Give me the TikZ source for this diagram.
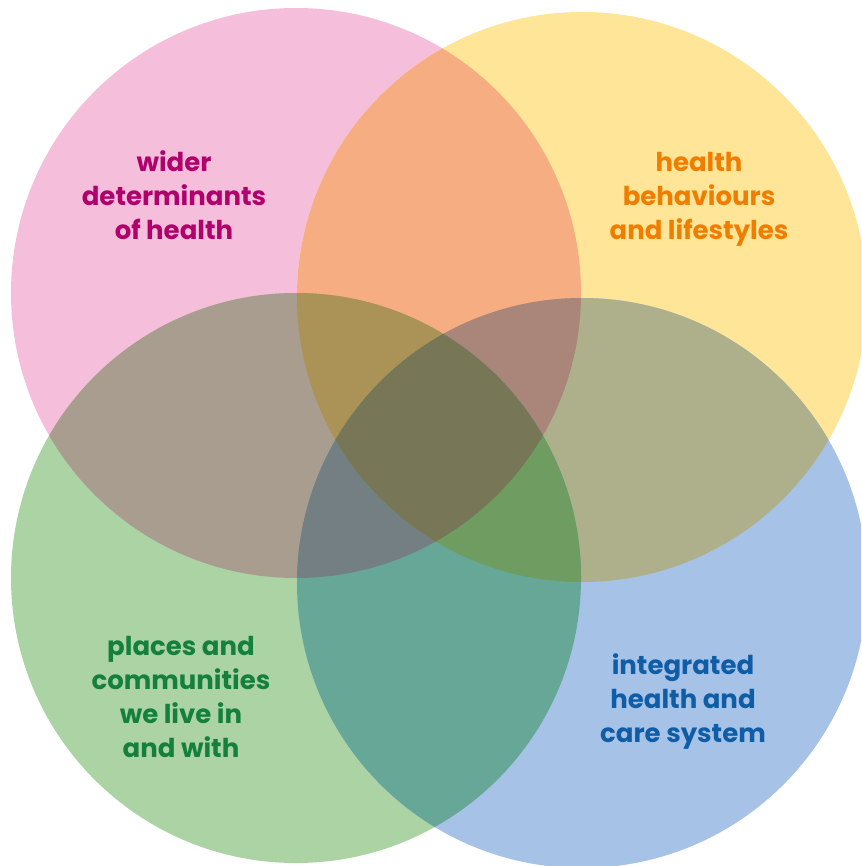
\documentclass[tikz,border=0pt]{standalone}
\usepackage{fontspec}
\setmainfont{Poppins}
\definecolor{cP}{HTML}{F5BEDB}
\definecolor{cY}{HTML}{FFE597}
\definecolor{cG}{HTML}{ACD3A4}
\definecolor{cB}{HTML}{A7C2E7}
\definecolor{cPY}{HTML}{F6AD82}
\definecolor{cPG}{HTML}{A89D8E}
\definecolor{cYB}{HTML}{ADB08A}
\definecolor{cGB}{HTML}{67A797}
\definecolor{cPYG}{HTML}{AB9358}
\definecolor{cPYB}{HTML}{A9857A}
\definecolor{cPGB}{HTML}{737F83}
\definecolor{cYGB}{HTML}{6E9C61}
\definecolor{cAll}{HTML}{777656}
\definecolor{tP}{HTML}{B0006C}
\definecolor{tY}{HTML}{EF7D00}
\definecolor{tG}{HTML}{14803C}
\definecolor{tB}{HTML}{0E5DA6}
\begin{document}
\begin{tikzpicture}[x=1pt,y=-1pt,
  lbl/.style={align=center,inner sep=0pt,font=\fontsize{26}{34}\selectfont\bfseries}]
\useasboundingbox (0,0) rectangle (861,866);
\clip (0,0) rectangle (861,866);
\coordinate (P) at (296,293);
\coordinate (Y) at (582,297);
\coordinate (G) at (296,578);
\coordinate (B) at (582,583);
\def\R{285pt}
% single circles
\fill[cP] (P) circle[radius=\R];
\fill[cY] (Y) circle[radius=\R];
\fill[cG] (G) circle[radius=\R];
\fill[cB] (B) circle[radius=\R];
% pairs
\begin{scope}\clip (P) circle[radius=\R]; \fill[cPY] (Y) circle[radius=\R];\end{scope}
\begin{scope}\clip (P) circle[radius=\R]; \fill[cPG] (G) circle[radius=\R];\end{scope}
\begin{scope}\clip (Y) circle[radius=\R]; \fill[cYB] (B) circle[radius=\R];\end{scope}
\begin{scope}\clip (G) circle[radius=\R]; \fill[cGB] (B) circle[radius=\R];\end{scope}
% triples
\begin{scope}\clip (P) circle[radius=\R]; \clip (Y) circle[radius=\R]; \fill[cPYG] (G) circle[radius=\R];\end{scope}
\begin{scope}\clip (P) circle[radius=\R]; \clip (Y) circle[radius=\R]; \fill[cPYB] (B) circle[radius=\R];\end{scope}
\begin{scope}\clip (P) circle[radius=\R]; \clip (G) circle[radius=\R]; \fill[cPGB] (B) circle[radius=\R];\end{scope}
\begin{scope}\clip (Y) circle[radius=\R]; \clip (G) circle[radius=\R]; \fill[cYGB] (B) circle[radius=\R];\end{scope}
% all four
\begin{scope}\clip (P) circle[radius=\R]; \clip (Y) circle[radius=\R]; \clip (G) circle[radius=\R]; \fill[cAll] (B) circle[radius=\R];\end{scope}
% labels
\node[lbl,text=tP] (tw) at (174,195) {wider\\determinants\\of health};
\node[lbl,text=tY] (th) at (699,199) {health\\behaviours\\and lifestyles};
\node[lbl,text=tG] (tp) at (181,697) {places and\\communities\\we live in\\and with};
\node[lbl,text=tB] (ti) at (683,702) {integrated\\health and\\care system};
\end{tikzpicture}
\end{document}
